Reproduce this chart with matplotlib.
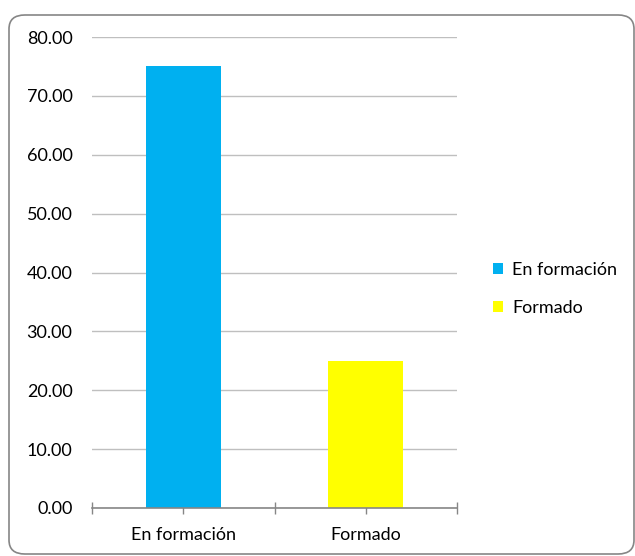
import matplotlib
matplotlib.use('Agg')
import matplotlib.pyplot as plt
from matplotlib.patches import FancyBboxPatch, Patch
import numpy as np

categories = ['En formación', 'Formado']
values = [75.0, 25.0]
colors = ['#00B0F0', '#FFFF00']
yticks = [0, 10, 20, 30, 40, 50, 60, 70, 80]

plt.rcParams['font.family'] = ['Lato', 'DejaVu Sans']

fig = plt.figure(figsize=(6.35, 5.56), dpi=100)
ax = fig.add_axes([92 / 635, 48 / 556, 365 / 635, 471 / 556])

# cadre arrondi style Excel
border = FancyBboxPatch((9 / 635, 2 / 556), 625 / 635, 539 / 556,
                        boxstyle='round,pad=0,rounding_size=0.025',
                        transform=fig.transFigure, facecolor='white',
                        edgecolor='#868686', linewidth=1.2, zorder=-1)
fig.patches.append(border)
ax.set_facecolor('none')

x = np.arange(len(categories))
ax.bar(x, values, width=0.41, color=colors, zorder=3)

ax.set_xlim(-0.5, len(categories) - 0.5)
ax.set_ylim(0, 80)
ax.set_yticks(yticks)
ax.set_yticklabels([f'{v:.2f}' for v in yticks], fontsize=13)
ax.yaxis.grid(True, color='#BFBFBF', linewidth=1, zorder=0)
ax.tick_params(axis='y', length=0, pad=14)

ax.set_xticks(x)
ax.set_xticklabels(categories, fontsize=13)
ax.set_xticks([-0.5, 0.5, 1.5], minor=True)
ax.tick_params(axis='x', which='both', length=9, direction='inout',
               color='#868686', pad=9, width=1)

for s in ['top', 'right', 'left']:
    ax.spines[s].set_visible(False)
ax.spines['bottom'].set_color('#868686')
ax.spines['bottom'].set_linewidth(1.2)
ax.spines['bottom'].set_zorder(4)

handles = [Patch(facecolor=c, label=l) for c, l in zip(colors, categories)]
fig.legend(handles=handles, loc='center left', bbox_to_anchor=(477 / 635, 1 - 289 / 556),
           frameon=False, fontsize=13, handlelength=0.55, handleheight=0.55,
           handletextpad=0.5, labelspacing=1.2)

plt.savefig('out.png', dpi=100)
